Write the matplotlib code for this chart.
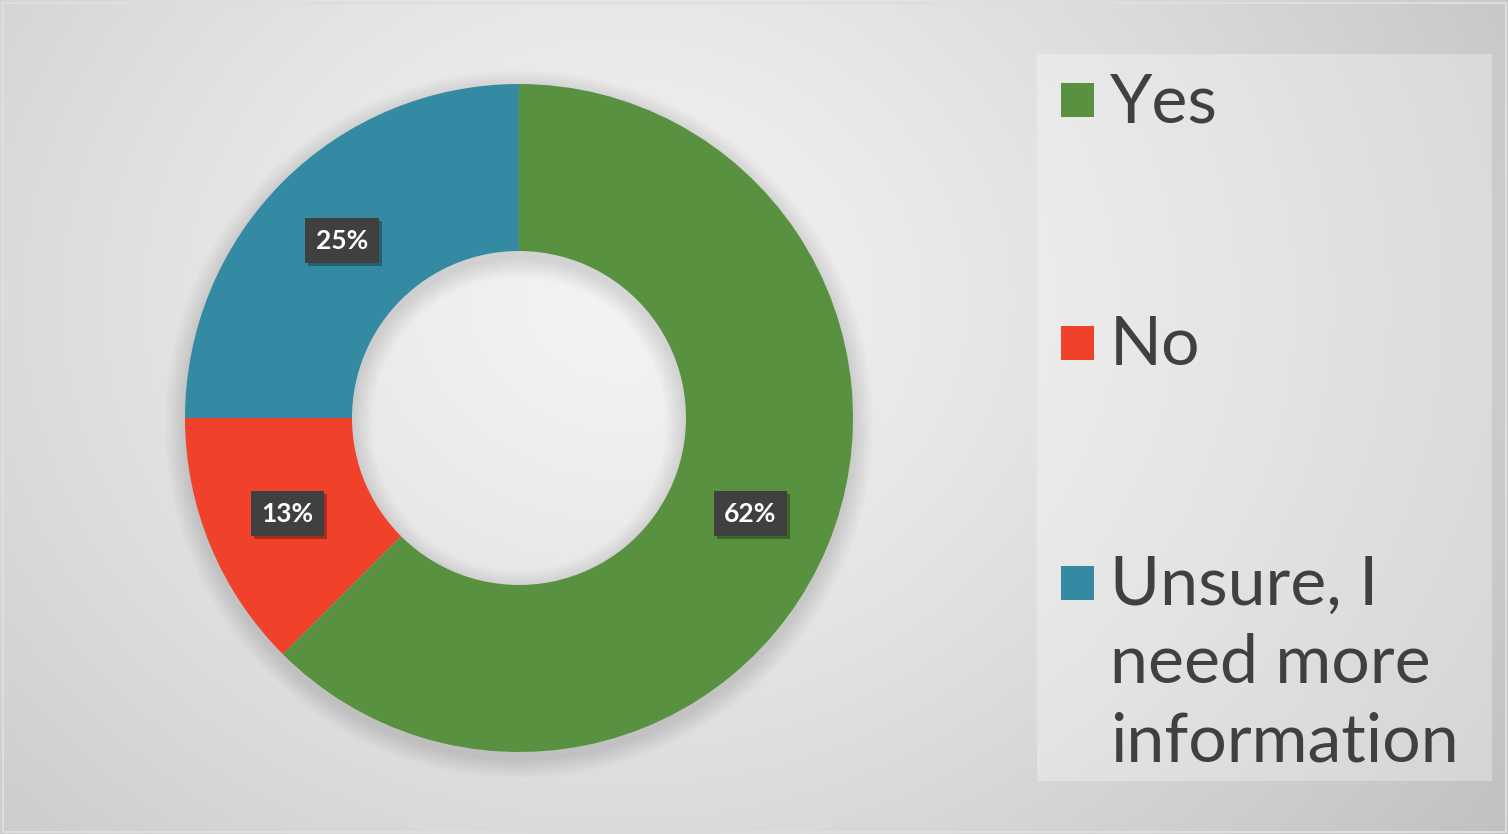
import numpy as np
import matplotlib
matplotlib.use("Agg")
import matplotlib.pyplot as plt
from matplotlib.patches import Rectangle, Wedge
import matplotlib.transforms as mtransforms

plt.rcParams["hatch.color"] = "#555555"

categories = ["Yes", "No", "Unsure, I\nneed more\ninformation"]
values = [62.5, 12.5, 25.0]
value_labels = ["62%", "13%", "25%"]
colors = ["#58913F", "#F0412B", "#348AA3"]

W, H = 1508, 834
fig = plt.figure(figsize=(W / 100, H / 100), dpi=100)

# background radial gradient
bg = fig.add_axes([0, 0, 1, 1])
yy, xx = np.mgrid[0:H, 0:W]
cx, cy = 620, 300
d = np.sqrt(((xx - cx) / 1.15) ** 2 + (yy - cy) ** 2) / np.sqrt(((W - cx) / 1.15) ** 2 + (H - cy) ** 2 + 0.0)
val = 0.955 - 0.2 * d ** 1.25
img = np.dstack([val, val, val])
bg.imshow(img, extent=[0, W, H, 0], aspect="auto")
bg.set_xlim(0, W)
bg.set_ylim(H, 0)
bg.axis("off")
bg.add_patch(Rectangle((2.5, 2.5), W - 5, H - 5, fill=False, ec="#dedede", lw=1.5))
# legend panel
bg.add_patch(Rectangle((1037, 54), 455, 727, fc="white", alpha=0.3, ec="none"))

# donut
R = 334
cxp, cyp = 519, 418
ax = fig.add_axes([(cxp - R) / W, (H - cyp - R) / H, 2 * R / W, 2 * R / H])
ax.set_aspect("equal")
# soft diffuse ring shadow
for i in range(10):
    grow = 0.006 * (i + 1)
    ax.add_patch(Wedge((0.0, -0.018), 1.0 + grow, 0, 360, width=0.5 + 2 * grow,
                       color="black", alpha=0.012, lw=0, zorder=0, clip_on=False))
wedges, _ = ax.pie(values, colors=colors, startangle=90, counterclock=False,
                   radius=1.0, wedgeprops=dict(width=0.5, edgecolor="none"))
for w in wedges:
    w.set_zorder(2)
ax.set_xlim(-1, 1)
ax.set_ylim(-1, 1)
ax.axis("off")

# data labels
shadow_off = mtransforms.offset_copy(ax.transData, fig=fig, x=3, y=-3, units="dots")
for w, lab in zip(wedges, value_labels):
    ang = np.deg2rad((w.theta1 + w.theta2) / 2)
    x, y = 0.75 * np.cos(ang), 0.75 * np.sin(ang)
    ax.text(x, y, lab, transform=shadow_off, ha="center", va="center", fontsize=19,
            fontweight="bold", family="Lato", color=(0, 0, 0, 0),
            bbox=dict(boxstyle="square,pad=0.4", fc="black", ec="none", alpha=0.3), zorder=3)
    ax.text(x, y, lab, ha="center", va="center", fontsize=19, fontweight="bold",
            family="Lato", color="white",
            bbox=dict(boxstyle="square,pad=0.4", fc="#404040", ec="none", hatch="..",
                      lw=0), zorder=4)

# legend
leg_y = [100, 343, 583]
line_gap = 78
for cat, col, yc in zip(categories, colors, leg_y):
    bg.add_patch(Rectangle((1061, yc - 17), 33, 34, fc=col, ec="none"))
    for k, line in enumerate(cat.split("\n")):
        bg.text(1110, yc + 3 + k * line_gap, line, ha="left", va="center", fontsize=49,
                family="Lato", color="#404040")

fig.savefig("out.png", dpi=100)
